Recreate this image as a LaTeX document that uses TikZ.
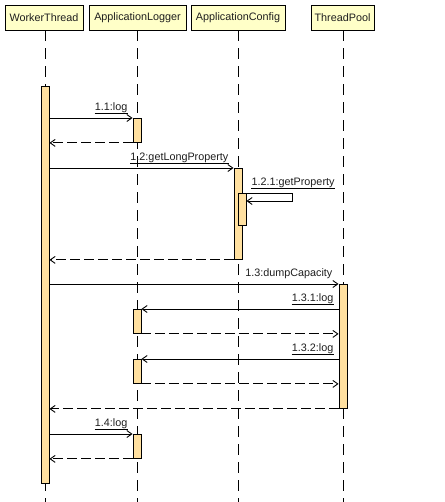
\documentclass[tikz,border=0pt]{standalone}
\usepackage{fontspec}
\setmainfont{Liberation Sans}
\usetikzlibrary{arrows.meta,calc}

\definecolor{headfill}{RGB}{255,255,200}
\definecolor{actfill}{RGB}{255,224,160}
\definecolor{inkgray}{RGB}{30,30,30}

\tikzset{
  head/.style={draw=black, fill=headfill, line width=0.9pt, minimum height=25pt,
    inner sep=0pt, font=\fontsize{10.8}{12}\selectfont, text=inkgray},
  lifeline/.style={draw=black, line width=1pt, dash pattern=on 11pt off 7pt},
  act/.style={draw=black, fill=actfill, line width=0.9pt, minimum width=8pt,
    inner sep=0pt, anchor=north},
  msg/.style={draw=black, line width=0.9pt, -{Straight Barb[length=5pt,width=7pt,line width=0.9pt]}},
  ret/.style={msg, dash pattern=on 10pt off 4pt},
  lbl/.style={inner sep=0pt, font=\fontsize{10.8}{12}\selectfont, text=inkgray},
  uline/.style={draw=black, line width=0.7pt},
}

\begin{document}
\begin{tikzpicture}[x=1pt,y=-1pt]
\useasboundingbox (0,0) rectangle (444,502);

% participant headers
\node[head, minimum width=78pt] (wt) at (44,17.5) {WorkerThread};
\node[head, minimum width=97pt] (al) at (137.5,17.5) {ApplicationLogger};
\node[head, minimum width=94pt] (ac) at (238,17.5) {ApplicationConfig};
\node[head, minimum width=63pt] (tp) at (342.5,17.5) {ThreadPool};

% lifeline ends
\coordinate (wtEnd) at (45,502);
\coordinate (alEnd) at (137,502);
\coordinate (acEnd) at (238,502);
\coordinate (tpEnd) at (343,502);

\draw[lifeline] (wtEnd |- wt.south) -- (wtEnd);
\draw[lifeline] (alEnd |- al.south) -- (alEnd);
\draw[lifeline] (acEnd |- ac.south) -- (acEnd);
\draw[lifeline] (tpEnd |- tp.south) -- (tpEnd);

% activation bars
\node[act, minimum height=397pt] (wtA) at (45,86) {};
\node[act, minimum height=24pt] (al1) at (137,118) {};
\node[act, minimum height=91pt] (acA) at (238,168) {};
\node[act, minimum height=32pt] (acB) at (242,193) {};
\node[act, minimum height=124pt] (tpA) at (343,284) {};
\node[act, minimum height=24pt] (al2) at (137,309) {};
\node[act, minimum height=24pt] (al3) at (137,359) {};
\node[act, minimum height=24pt] (al4) at (137,434) {};

% 1.1 log
\draw[msg] (wtA.east |- al1.north) -- (al1.north west);
\node[lbl, anchor=base east] (l11) at ($(al1.north west)+(-5,-7.5)$) {1.1:log};
\draw[uline] ($(l11.base west)+(0,3)$) -- ($(l11.base east)+(0,3)$);
\draw[ret] (al1.south west) -- (wtA.east |- al1.south);

% 1.2 getLongProperty
\draw[msg] (wtA.east |- acA.north) -- (acA.north west);
\node[lbl, anchor=base east] (l12) at ($(acA.north west)+(-5,-7.5)$) {1.2:getLongProperty};
\draw[uline] ($(l12.base west)+(0,3)$) -- ($(l12.base east)+(0,3)$);

% 1.2.1 getProperty (self call)
\coordinate (selfR) at ($(acB.north east)+(46,0)$);
\draw[msg] (acB.north east) -- (selfR) -- ++(0,8) -- ($(acB.north east)+(0,8)$);
\node[act, minimum height=32pt] at (242,193) {};
\node[lbl, anchor=base west] (l121) at ($(acB.north east)+(5,-7.5)$) {1.2.1:getProperty};
\draw[uline] ($(l121.base west)+(0,3)$) -- ($(l121.base east)+(0,3)$);
\draw[ret] (acA.south west) -- (wtA.east |- acA.south);

% 1.3 dumpCapacity
\draw[msg] (wtA.east |- tpA.north) -- (tpA.north west);
\node[lbl, anchor=base east] (l13) at ($(tpA.north west)+(-6,-8)$) {1.3:dumpCapacity};

% 1.3.1 log
\draw[msg] (tpA.west |- al2.north) -- (al2.north east);
\node[lbl, anchor=base east] (l131) at ($(tpA.west |- al2.north)+(-5,-8)$) {1.3.1:log};
\draw[uline] ($(l131.base west)+(0,3)$) -- ($(l131.base east)+(0,3)$);
\draw[ret] (al2.south east) -- (tpA.west |- al2.south);

% 1.3.2 log
\draw[msg] (tpA.west |- al3.north) -- (al3.north east);
\node[lbl, anchor=base east] (l132) at ($(tpA.west |- al3.north)+(-5,-8)$) {1.3.2:log};
\draw[uline] ($(l132.base west)+(0,3)$) -- ($(l132.base east)+(0,3)$);
\draw[ret] (al3.south east) -- (tpA.west |- al3.south);

\draw[ret] (tpA.south west) -- (wtA.east |- tpA.south);

% 1.4 log
\draw[msg] (wtA.east |- al4.north) -- (al4.north west);
\node[lbl, anchor=base east] (l14) at ($(al4.north west)+(-5,-7.5)$) {1.4:log};
\draw[uline] ($(l14.base west)+(0,3)$) -- ($(l14.base east)+(0,3)$);
\draw[ret] (al4.south west) -- (wtA.east |- al4.south);
\end{tikzpicture}
\end{document}
